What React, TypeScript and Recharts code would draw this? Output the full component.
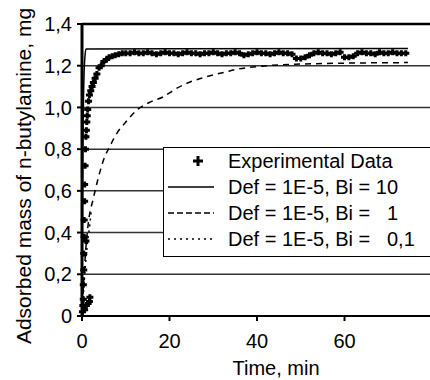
import { CartesianGrid, ComposedChart, Line, ReferenceLine, Scatter, XAxis, YAxis } from "recharts";

const INK = "#000";
const GRID = "#333";
const FONT = "'Liberation Sans', Arial, sans-serif";

// experimental uptake, min / mg
const expTime = [
  0.1, 0.2, 0.3, 0.3, 0.4, 0.4, 0.5, 0.5, 0.6, 0.6, 0.7, 0.8, 0.9, 1.0, 1.1, 1.2, 1.3, 1.5, 1.7, 2.0,
  2.3, 2.6, 3.0, 3.4, 3.9, 4.4, 5.0, 5.6, 6.2, 6.9, 7.6, 8.4, 9.2, 10,
  0.6, 1.0, 1.4, 1.7, 1.8, 0.9,
  11, 12, 13, 14, 15, 16, 17, 18, 19, 20, 21, 22, 23, 24, 25, 26, 27, 28, 29, 30, 31, 32, 33, 34, 35,
  36, 37, 38, 39, 40, 41, 42, 43, 44, 45, 46, 47, 48, 49, 50, 51, 52, 53, 54, 55, 56, 57, 58, 59, 60,
  61, 62, 63, 64, 65, 66, 67, 68, 69, 70, 71, 72, 73, 74,
];
const expMass = [
  0.02, 0.05, 0.08, 0.15, 0.22, 0.3, 0.38, 0.46, 0.55, 0.63, 0.72, 0.8, 0.86, 0.89, 0.93, 0.96, 0.99, 1.03, 1.06, 1.08,
  1.1, 1.12, 1.14, 1.16, 1.19, 1.2, 1.22, 1.23, 1.24, 1.245, 1.25, 1.255, 1.26, 1.26,
  0.03, 0.05, 0.06, 0.07, 0.09, 0.36,
  1.26, 1.265, 1.26, 1.26, 1.265, 1.26, 1.255, 1.26, 1.265, 1.26, 1.26, 1.255, 1.26, 1.265, 1.26,
  1.26, 1.255, 1.26, 1.26, 1.265, 1.26, 1.255, 1.26, 1.26, 1.265, 1.26, 1.25, 1.255, 1.26, 1.265,
  1.26, 1.26, 1.255, 1.26, 1.265, 1.26, 1.26, 1.255, 1.235, 1.235, 1.24, 1.25, 1.26, 1.265, 1.26,
  1.26, 1.255, 1.26, 1.265, 1.24, 1.24, 1.245, 1.26, 1.265, 1.26, 1.26, 1.255, 1.265, 1.26, 1.26,
  1.265, 1.26, 1.26, 1.26,
];

// model, Def = 1E-5, Bi = 10
const bi10Time = [0, 0.1, 0.2, 0.35, 0.5, 0.7, 0.9, 74.5];
const bi10Mass = [0, 0.45, 0.8, 1.05, 1.18, 1.25, 1.28, 1.282];

// model, Def = 1E-5, Bi = 1
const bi1Time = [0, 0.4, 0.9, 1.6, 2.5, 3.7, 5, 6.4, 8, 10, 12.8, 15.5, 18.5, 21.5, 24.7, 27.3, 29.9, 32.8, 35.7, 38.4, 41.1, 45, 50, 56, 62, 68, 74.5];
const bi1Mass = [0, 0.17, 0.33, 0.47, 0.556, 0.66, 0.753, 0.815, 0.877, 0.93, 0.992, 1.025, 1.05, 1.09, 1.122, 1.14, 1.155, 1.17, 1.184, 1.192, 1.198, 1.204, 1.208, 1.211, 1.213, 1.214, 1.215];

// model, Def = 1E-5, Bi = 0,1
const bi01Time = [0, 0.3, 0.7, 1.2, 1.8, 2.1];
const bi01Mass = [0, 0.1, 0.22, 0.34, 0.44, 0.5];

const xTicks = [0, 20, 40, 60];
const yTicks = [0, 0.2, 0.4, 0.6, 0.8, 1.0, 1.2, 1.4];
const yTickLabels = ["0", "0,2", "0,4", "0,6", "0,8", "1,0", "1,2", "1,4"];

const legendLabels = [
  "Experimental Data",
  "Def = 1E-5, Bi = 10",
  "Def = 1E-5, Bi =   1",
  "Def = 1E-5, Bi =   0,1",
];

const zip = (t: number[], m: number[]) => t.map((v, i) => ({ t: v, m: m[i] }));

// heavy little plus, these blur into a band on the plateau like the scan
function Cross({ cx, cy }: any) {
  return <path d={`M${cx - 3.5},${cy}h7M${cx},${cy - 3}v6`} stroke={INK} strokeWidth={3} />;
}

function LegendSymbol({ i }: { i: number }) {
  return (
    <svg width={64} height={26} style={{ flex: "none" }}>
      {i === 0 ? (
        <path d="M34,8v10M29,13h10" stroke={INK} strokeWidth={3} />
      ) : (
        <line
          x1={4}
          x2={50}
          y1={13}
          y2={13}
          stroke={INK}
          strokeWidth={1.5}
          strokeDasharray={i === 2 ? "6 3" : i === 3 ? "2 4" : undefined}
        />
      )}
    </svg>
  );
}

export default function App() {
  return (
    <div
      style={{
        position: "fixed",
        left: 0,
        top: 0,
        width: 430,
        height: 380,
        overflow: "hidden",
        background: "#fff",
        fontFamily: FONT,
      }}
    >
      <ComposedChart width={440} height={380} margin={{ top: 24, right: 8, bottom: 0, left: 0 }}>
        <CartesianGrid stroke={GRID} strokeWidth={1.5} vertical={false} />
        <XAxis
          type="number"
          dataKey="t"
          domain={[0, 80]}
          ticks={xTicks}
          height={64}
          tick={{ fill: INK, fontSize: 20, fontFamily: FONT }}
          tickSize={5}
          tickMargin={13}
          tickLine={{ stroke: INK, strokeWidth: 2 }}
          axisLine={{ stroke: INK, strokeWidth: 2 }}
          label={{
            content: () => (
              <text x={276} y={375} textAnchor="middle" fontSize={20} fontFamily={FONT} fill={INK}>
                Time, min
              </text>
            ),
          }}
        />
        <YAxis
          type="number"
          dataKey="m"
          domain={[0, 1.4]}
          ticks={yTicks}
          width={82}
          tickFormatter={(_v, i) => yTickLabels[i]}
          tick={{ fill: INK, fontSize: 20, fontFamily: FONT }}
          tickSize={5}
          tickMargin={5}
          tickLine={{ stroke: INK, strokeWidth: 2 }}
          axisLine={{ stroke: INK, strokeWidth: 3 }}
          label={{
            content: () => (
              <text
                x={23}
                y={176}
                transform="rotate(-90 23 176)"
                textAnchor="middle"
                dominantBaseline="central"
                fontSize={21}
                fontFamily={FONT}
                fill={INK}
              >
                Adsorbed mass of n-butylamine, mg
              </text>
            ),
          }}
        />
        <ReferenceLine y={1.4} stroke={INK} strokeWidth={2.5} />
        <Line data={zip(bi01Time, bi01Mass)} dataKey="m" type="monotone" stroke={INK} strokeWidth={1.5} strokeDasharray="2 4" dot={false} isAnimationActive={false} />
        <Line data={zip(bi1Time, bi1Mass)} dataKey="m" type="monotone" stroke={INK} strokeWidth={1.5} strokeDasharray="6 5" dot={false} isAnimationActive={false} />
        <Line data={zip(bi10Time, bi10Mass)} dataKey="m" type="monotone" stroke={INK} strokeWidth={1.5} dot={false} isAnimationActive={false} />
        <Scatter data={zip(expTime, expMass)} dataKey="m" shape={<Cross />} isAnimationActive={false} />
      </ComposedChart>
      <div
        style={{
          position: "absolute",
          left: 163,
          top: 147,
          width: 290,
          height: 110,
          boxSizing: "border-box",
          border: `1.5px solid ${INK}`,
          background: "#fff",
          fontSize: 20,
        }}
      >
        {legendLabels.map((s, i) => (
          <div key={s} style={{ display: "flex", alignItems: "center", height: 26, whiteSpace: "pre" }}>
            <LegendSymbol i={i} />
            <span>{s}</span>
          </div>
        ))}
      </div>
    </div>
  );
}
